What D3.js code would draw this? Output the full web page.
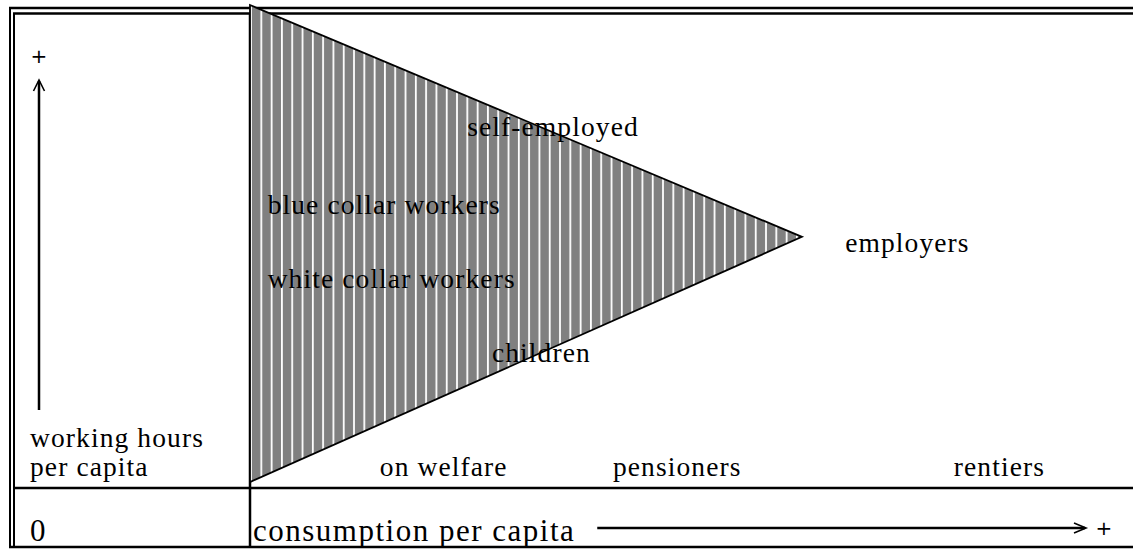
<!DOCTYPE html>
<html lang="en">
<head>
<meta charset="UTF-8">
<script src="https://d3js.org/d3.v7.min.js"></script>
<style>
  body { margin: 0; background: #fff; }
  svg text.lbl { font-family: "Liberation Serif", serif; font-size: 27.5px; letter-spacing: 1.1px; fill: #000; }
  svg text.lbl.big { font-size: 31px; letter-spacing: 1.5px; }
  svg text.plus { font-family: "DejaVu Sans", sans-serif; font-size: 20px; fill: #000; }
</style>
</head>
<body>
<script>
// conceptual chart: consumption (x) vs working hours (y), both 0..100
const triangle = [[0, 0], [0, 100], [62.5, 51.4]];
const groupNames = ["self-employed", "blue collar workers", "employers", "white collar workers",
                    "children", "on welfare", "pensioners", "rentiers"];
const groupX = [24.6, 2.0, 67.4, 2.0, 27.4, 14.7, 41.1, 79.7];
const groupY = [72.5, 56.2, 48.2, 40.7, 25.2, 1.3, 1.3, 1.3];

const W = 1133, H = 549;
const svg = d3.select("body").append("svg").attr("width", W).attr("height", H);

const x = d3.scaleLinear().domain([0, 100]).range([250, 1133]);
const y = d3.scaleLinear().domain([0, 100]).range([482, 5]);

// striped fill
const defs = svg.append("defs");
const pat = defs.append("pattern").attr("id", "stripes")
    .attr("patternUnits", "userSpaceOnUse")
    .attr("x", 252).attr("y", 0).attr("width", 10.3).attr("height", 10);
pat.append("rect").attr("width", 10.3).attr("height", 10).attr("fill", "#808080");
pat.append("rect").attr("x", 8.4).attr("width", 1.8).attr("height", 10).attr("fill", "#fff");

// frame
const frame = svg.append("g").attr("stroke", "#000").attr("fill", "none");
frame.append("line").attr("x1", 9).attr("x2", W).attr("y1", 8).attr("y2", 8).attr("stroke-width", 2.5);
frame.append("line").attr("x1", 13).attr("x2", W).attr("y1", 13.5).attr("y2", 13.5).attr("stroke-width", 2.5);
frame.append("line").attr("x1", 10).attr("x2", 10).attr("y1", 7).attr("y2", 548).attr("stroke-width", 2);
frame.append("line").attr("x1", 14).attr("x2", 14).attr("y1", 13).attr("y2", 548).attr("stroke-width", 2);
frame.append("line").attr("x1", 9).attr("x2", W).attr("y1", 547).attr("y2", 547).attr("stroke-width", 2.5);
frame.append("line").attr("x1", 14).attr("x2", W).attr("y1", 488).attr("y2", 488).attr("stroke-width", 2.5);
frame.append("line").attr("x1", x(0)).attr("x2", x(0)).attr("y1", 13).attr("y2", 548).attr("stroke-width", 2.5);

// triangle
svg.append("path")
    .attr("d", d3.line().x(d => x(d[0])).y(d => y(d[1])).curve(d3.curveLinearClosed)(triangle))
    .attr("fill", "url(#stripes)")
    .attr("stroke", "#000").attr("stroke-width", 1.8);

// group labels
svg.selectAll("text.grp").data(groupNames).join("text")
    .attr("class", "lbl grp")
    .attr("x", (d, i) => x(groupX[i]))
    .attr("y", (d, i) => y(groupY[i]))
    .text(d => d);

// vertical axis arrow
const arr = svg.append("g").attr("stroke", "#000").attr("fill", "none").attr("stroke-width", 2.5);
arr.append("line").attr("x1", 39).attr("x2", 39).attr("y1", 410).attr("y2", 81);
arr.append("path").attr("d", "M33.5,91 L39,80 L44.5,91").attr("stroke-width", 1.6);
svg.append("text").attr("class", "plus").attr("x", 39).attr("y", 63).attr("text-anchor", "middle").text("+");

svg.append("text").attr("class", "lbl").attr("x", 30).attr("y", 447).text("working hours");
svg.append("text").attr("class", "lbl").attr("x", 30).attr("y", 476).text("per capita");
svg.append("text").attr("class", "lbl big").attr("x", 30).attr("y", 541).text("0");

// horizontal axis arrow, starts after the label
const cons = svg.append("text").attr("class", "lbl big").attr("x", 253).attr("y", 541).text("consumption per capita");
const lineStart = 253 + cons.node().getComputedTextLength() + 22;
arr.append("line").attr("x1", lineStart).attr("x2", 1085).attr("y1", 528).attr("y2", 528);
arr.append("path").attr("d", "M1074,523 L1086,528 L1074,533").attr("stroke-width", 1.6);
svg.append("text").attr("class", "plus").attr("x", 1104).attr("y", 535).attr("text-anchor", "middle").text("+");
</script>
</body>
</html>
